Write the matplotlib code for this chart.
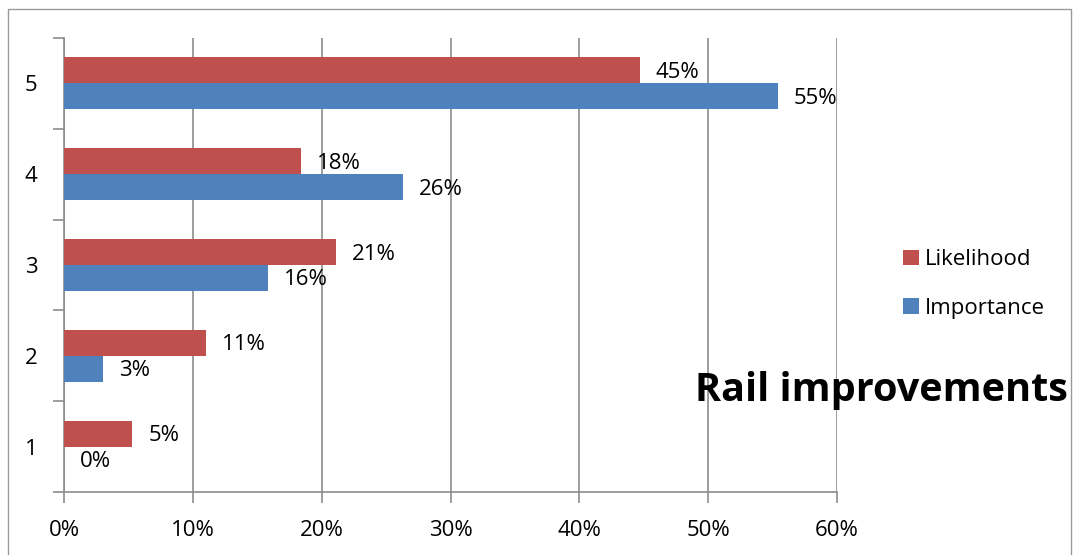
import numpy as np
import matplotlib.pyplot as plt
from matplotlib.patches import Rectangle

categories = ['1', '2', '3', '4', '5']
likelihood = [5.3, 11.0, 21.1, 18.4, 44.7]
importance = [0.0, 3.0, 15.8, 26.3, 55.4]
xticks = [0, 10, 20, 30, 40, 50, 60]

RED = '#C0504D'
BLUE = '#4F81BD'
GRID = '#8C8C8C'
FS = 16


def graph():
    plt.rcParams['font.family'] = ['Open Sans', 'DejaVu Sans']
    fig = plt.figure(figsize=(10.73, 5.55), dpi=100)
    ax = fig.add_axes([64 / 1073, 63 / 555, (837 - 64) / 1073, (492 - 38) / 555])

    # outer chart frame
    fig.patches.append(Rectangle((8 / 1073, -0.01), 1063 / 1073, 1.01 - 9 / 555,
                                 transform=fig.transFigure, fill=False,
                                 edgecolor='#9A9A9A', linewidth=1.0))

    y = np.arange(len(categories))
    h = 0.286

    bars_l = ax.barh(y + h / 2, likelihood, height=h, color=RED, label='Likelihood', zorder=3)
    bars_i = ax.barh(y - h / 2, importance, height=h, color=BLUE, label='Importance', zorder=3)

    for bars, vals in ((bars_l, likelihood), (bars_i, importance)):
        for b, v in zip(bars, vals):
            ax.annotate('{:.0f}%'.format(v), (v, b.get_y() + b.get_height() / 2),
                        xytext=(16, -2), textcoords='offset pixels',
                        ha='left', va='center', fontsize=FS, zorder=4)

    ax.set_xlim(0, 60)
    ax.set_ylim(-0.5, len(categories) - 0.5)
    ax.set_xticks(xticks)
    ax.set_xticklabels(['{}%'.format(t) for t in xticks])
    ax.set_yticks(y)
    ax.set_yticklabels(categories)
    ax.set_yticks(np.arange(len(categories) + 1) - 0.5, minor=True)

    ax.grid(axis='x', color=GRID, linewidth=1.2, zorder=0)
    for s in ('top', 'right'):
        ax.spines[s].set_visible(False)
    for s in ('left', 'bottom'):
        ax.spines[s].set_color(GRID)
        ax.spines[s].set_linewidth(1.2)

    ax.tick_params(axis='x', direction='out', length=8, width=1.2, color=GRID,
                   labelsize=FS, pad=12)
    ax.tick_params(axis='y', which='major', length=0, labelsize=FS, pad=19)
    ax.tick_params(axis='y', which='minor', direction='out', length=8, width=1.2, color=GRID)

    handles = [bars_l, bars_i]
    ax.legend(handles=handles, loc='center left', bbox_to_anchor=(892 / 1073, (555 - 284) / 555),
              bbox_transform=fig.transFigure, frameon=False, fontsize=FS,
              handlelength=0.7, handleheight=0.7, handletextpad=0.3, labelspacing=1.25,
              borderpad=0)

    fig.text(1068 / 1073, (555 - 390) / 555, 'Rail improvements', ha='right', va='center',
             fontsize=28.5, fontweight='bold')

    fig.savefig('out.png', dpi=100)


if __name__ == '__main__':
    graph()
